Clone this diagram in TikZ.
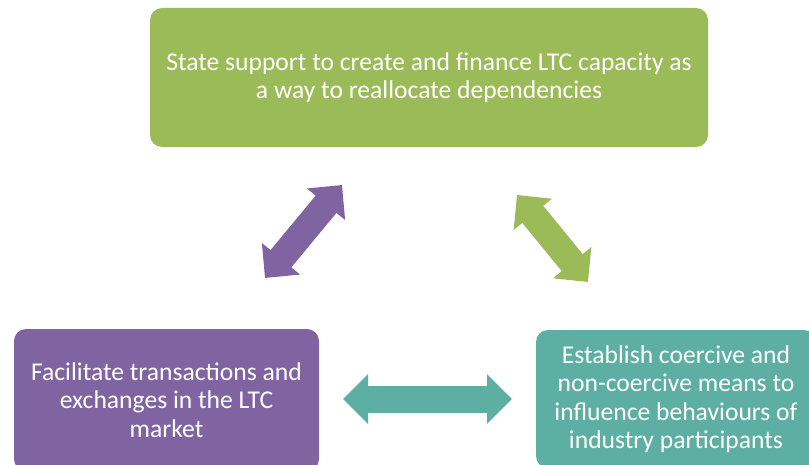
\documentclass[tikz,border=0pt]{standalone}
\usepackage{fontspec}
\setmainfont{Carlito}
\usetikzlibrary{arrows.meta}
\definecolor{boxgreen}{RGB}{155,187,89}
\definecolor{boxpurple}{RGB}{128,100,162}
\definecolor{boxteal}{RGB}{94,175,163}
\tikzset{
  box/.style={rectangle, rounded corners=12pt, inner sep=0pt, align=center,
    text=white, font=\fontsize{25.6}{28.5}\selectfont},
  blockarrow/.style={line width=27pt,
    {Triangle[width=48pt,length=25pt]}-{Triangle[width=48pt,length=25pt]}},
}
\begin{document}
\begin{tikzpicture}[x=1pt,y=-1pt]
\useasboundingbox (0,0) rectangle (809,465);
\node[box, fill=boxgreen, minimum width=558pt, minimum height=139pt] (top) at (429,77.5)
  {State support to create and finance LTC capacity as\\a way to reallocate dependencies};
\node[box, fill=boxpurple, minimum width=305pt, minimum height=142pt] (left) at (166.5,400)
  {Facilitate transactions and\\exchanges in the LTC\\market};
\node[box, fill=boxteal, minimum width=280pt, minimum height=138pt] (right) at (676,399)
  {Establish coercive and\\non-coercive means to\\influence behaviours of\\industry participants};
\coordinate (p1) at (342,185);
\coordinate (p2) at (265,278);
\coordinate (g1) at (517,195);
\coordinate (g2) at (588,282);
\coordinate (t1) at (343,399);
\coordinate (t2) at (512,399);
\draw[blockarrow, boxpurple] (p1) -- (p2);
\draw[blockarrow, boxgreen] (g1) -- (g2);
\draw[blockarrow, boxteal] (t1) -- (t2);
\end{tikzpicture}
\end{document}
